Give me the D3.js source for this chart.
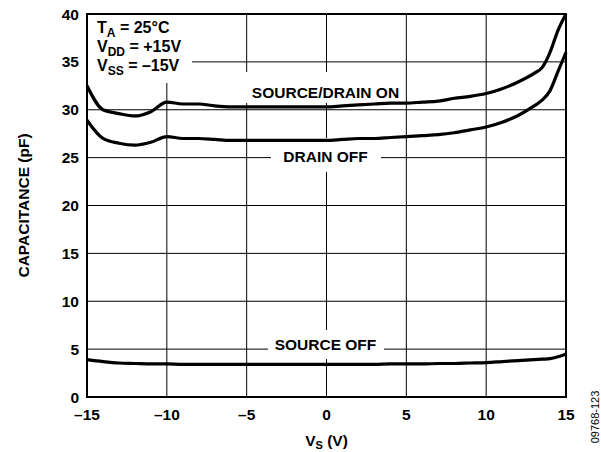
<!DOCTYPE html>
<html>
<head>
<meta charset="utf-8">
<script src="https://cdn.jsdelivr.net/npm/d3@7"></script>
<style>
  body { margin: 0; background: #fff; }
  svg { font-family: "Liberation Sans", Arial, sans-serif; }
</style>
</head>
<body>
<svg width="601" height="452"></svg>
<script>
// supply voltage sweep (V)
var vs = [-15, -14, -13, -12, -11, -10, -9, -8, -7, -6, -5, -4, -3, -2, -1, 0,
          1, 2, 3, 4, 5, 6, 7, 8, 9, 10, 11, 12, 13, 13.5, 14, 14.5, 15]
// capacitance (pF)
var sourceDrainOn = [32.5, 30.0, 29.6, 29.35, 29.8, 30.8, 30.6, 30.6, 30.4, 30.3, 30.3, 30.3, 30.3, 30.3, 30.3, 30.3,
                     30.4, 30.5, 30.6, 30.7, 30.7, 30.8, 30.9, 31.2, 31.4, 31.7, 32.2, 32.9, 33.8, 34.4, 36.0, 38.3, 40]
var drainOff = [28.9, 27.0, 26.5, 26.3, 26.6, 27.2, 27.0, 27.0, 26.9, 26.8, 26.8, 26.8, 26.8, 26.8, 26.8, 26.8,
                26.9, 27.0, 27.0, 27.1, 27.2, 27.3, 27.4, 27.6, 27.9, 28.2, 28.7, 29.4, 30.4, 31.0, 32.0, 34.0, 36.0]
var sourceOff = [3.9, 3.7, 3.55, 3.5, 3.45, 3.45, 3.4, 3.4, 3.4, 3.4, 3.4, 3.4, 3.4, 3.4, 3.4, 3.4,
                 3.4, 3.4, 3.4, 3.45, 3.45, 3.45, 3.5, 3.5, 3.55, 3.6, 3.7, 3.8, 3.9, 3.95, 4.0, 4.2, 4.5]
var xTicks = [-15, -10, -5, 0, 5, 10, 15]
var yTicks = [0, 5, 10, 15, 20, 25, 30, 35, 40]

var svg = d3.select("svg")
var pLeft = 87, pRight = 566, pTop = 14, pBottom = 397
var fs = 15.5

var x = d3.scaleLinear().domain([-15, 15]).range([pLeft, pRight])
var y = d3.scaleLinear().domain([0, 40]).range([pBottom, pTop])

// grid
svg.append("g").selectAll("line").data(xTicks.slice(1, -1)).enter().append("line")
    .attr("x1", d => x(d)).attr("x2", d => x(d))
    .attr("y1", pTop).attr("y2", pBottom)
    .attr("stroke", "#000").attr("stroke-width", 1)
svg.append("g").selectAll("line").data(yTicks.slice(1, -1)).enter().append("line")
    .attr("y1", d => y(d)).attr("y2", d => y(d))
    .attr("x1", pLeft).attr("x2", pRight)
    .attr("stroke", "#000").attr("stroke-width", 1)

// white patches behind the labels
var patches = [
    [pLeft + 1, pTop + 1, 104, 68],
    [245, 72, 159, 31],
    [271, 138, 110, 34],
    [268, 330, 116, 29]
]
svg.append("g").selectAll("rect").data(patches).enter().append("rect")
    .attr("x", d => d[0]).attr("y", d => d[1])
    .attr("width", d => d[2]).attr("height", d => d[3])
    .attr("fill", "#fff")

// curves
var line = d3.line().curve(d3.curveMonotoneX)
    .x(d => x(d[0])).y(d => y(d[1]))
;[sourceDrainOn, drainOff, sourceOff].forEach(function (s) {
    svg.append("path")
        .attr("d", line(vs.map((v, i) => [v, s[i]])))
        .attr("fill", "none").attr("stroke", "#000")
        .attr("stroke-width", 3.2).attr("stroke-linejoin", "round")
})

// frame
svg.append("rect")
    .attr("x", pLeft).attr("y", pTop)
    .attr("width", pRight - pLeft).attr("height", pBottom - pTop)
    .attr("fill", "none").attr("stroke", "#000").attr("stroke-width", 2)

// tick labels
svg.append("g").selectAll("text").data(yTicks).enter().append("text")
    .attr("x", pLeft - 8).attr("y", d => y(d) + 5.5)
    .attr("text-anchor", "end").attr("font-size", fs).attr("font-weight", "bold")
    .text(d => d)
svg.append("g").selectAll("text").data(xTicks).enter().append("text")
    .attr("x", d => x(d)).attr("y", 420)
    .attr("text-anchor", "middle").attr("font-size", fs).attr("font-weight", "bold")
    .text(d => d < 0 ? "\u2013" + Math.abs(d) : d)

// axis titles
var xt = svg.append("text")
    .attr("x", x(0)).attr("y", 446)
    .attr("text-anchor", "middle").attr("font-size", fs).attr("font-weight", "bold")
xt.append("tspan").text("V")
xt.append("tspan").attr("font-size", 11).attr("dy", 3).text("S")
xt.append("tspan").attr("dy", -3).text(" (V)")

svg.append("text")
    .attr("transform", "translate(28.5," + y(20) + ") rotate(-90)")
    .attr("text-anchor", "middle").attr("font-size", fs).attr("font-weight", "bold")
    .text("CAPACITANCE (pF)")

svg.append("text")
    .attr("transform", "translate(599,417) rotate(-90)")
    .attr("text-anchor", "middle").attr("font-size", 11)
    .text("09768-123")

// conditions box
var cond = [["T", "A", " = 25\u00b0C"], ["V", "DD", " = +15V"], ["V", "SS", " = \u201315V"]]
cond.forEach(function (c, i) {
    var t = svg.append("text")
        .attr("x", 97).attr("y", 33 + i * 19)
        .attr("font-size", 16).attr("font-weight", "bold")
    t.append("tspan").text(c[0])
    t.append("tspan").attr("font-size", 12).attr("dy", 4).text(c[1])
    t.append("tspan").attr("dy", -4).text(c[2])
})

// curve labels
var labels = [["SOURCE/DRAIN ON", 98], ["DRAIN OFF", 161.5], ["SOURCE OFF", 349.5]]
svg.append("g").selectAll("text").data(labels).enter().append("text")
    .attr("x", 325.5).attr("y", d => d[1])
    .attr("text-anchor", "middle").attr("font-size", fs).attr("font-weight", "bold")
    .text(d => d[0])
</script>
</body>
</html>
